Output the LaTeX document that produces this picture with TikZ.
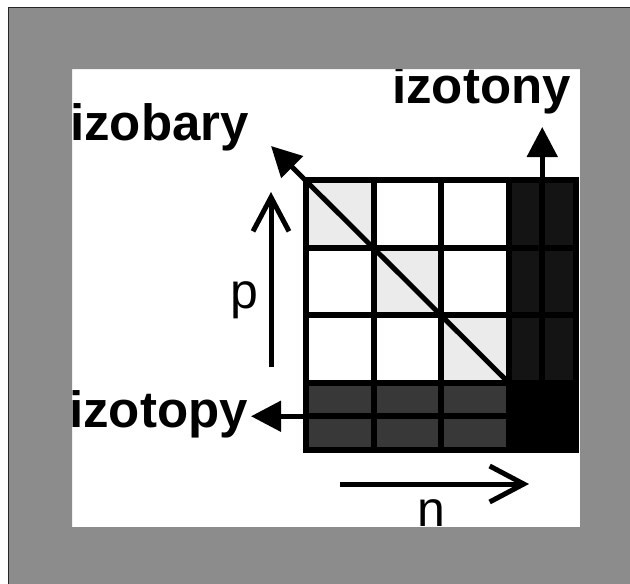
\documentclass[tikz,border=0pt]{standalone}
\usepackage{fontspec}
\setmainfont{Liberation Sans}
\usetikzlibrary{arrows.meta}
\definecolor{diagcell}{RGB}{235,235,235}
\definecolor{protonrow}{RGB}{56,56,56}
\definecolor{neutroncol}{RGB}{20,20,20}
\definecolor{framegray}{RGB}{140,140,140}

\begin{document}
\begin{tikzpicture}[x=1pt, y=-1pt,
                    lbl/.style={font=\fontsize{51}{51}\selectfont\bfseries, inner sep=0pt, anchor=base west},
                    axl/.style={font=\fontsize{50}{50}\selectfont, inner sep=0pt, anchor=base west},
                    grd/.style={line width=6pt},
                    tri/.style={line width=5pt, -{Triangle[length=30pt, width=30pt]}},
                    barb/.style={line width=5pt, -{Straight Barb[length=34pt, width=36pt]}}]
    \useasboundingbox (0,0) rectangle (630,584);
    \fill[white] (0,0) rectangle (630,584);
    \foreach \i in {0,1,2}
      \fill[diagcell] (306+67.5*\i, 180+67.5*\i) rectangle ++(67.5,67.5);
    \fill[protonrow] (306,382.5) rectangle (508.5,450);
    \fill[neutroncol] (508.5,180) rectangle (576,382.5);
    \fill[black] (508.5,382.5) rectangle (576,450);
    \foreach \x in {373.5,441,508.5}
      \draw[grd] (\x,180) -- (\x,450);
    \foreach \y in {247.5,315,382.5}
      \draw[grd] (306,\y) -- (576,\y);
    \draw[grd] (542.25,180) -- (542.25,382.5);
    \draw[grd] (306,416.25) -- (508.5,416.25);
    \draw[grd] (306,180) rectangle (576,450);
    \coordinate (diagend) at (508.5,382.5);
    \coordinate (isobartip) at (271,146);
    \coordinate (isotonefoot) at (542.25,180);
    \coordinate (isotonetip) at (542.25,127);
    \coordinate (isotopefoot) at (306,416.25);
    \coordinate (isotopetip) at (251,416.25);
    \coordinate (pfoot) at (271,367);
    \coordinate (ptip) at (271,192);
    \coordinate (nfoot) at (340,484);
    \coordinate (ntip) at (529,484);
    \draw[tri] (diagend) -- (isobartip);
    \draw[tri] (isotonefoot) -- (isotonetip);
    \draw[tri] (isotopefoot) -- (isotopetip);
    \draw[barb] (pfoot) -- (ptip);
    \draw[barb] (nfoot) -- (ntip);
    \node[lbl] (izobary) at (70,140) {izobary};
    \node[lbl] (izotony) at (392,103) {izotony};
    \node[lbl] (izotopy) at (69,427) {izotopy};
    \node[axl] (plabel) at (230,308) {p};
    \node[axl] (nlabel) at (417,526) {n};
    \fill[framegray, even odd rule] (8.5,7.5) rectangle (630,584) (72,69) rectangle (580,527);
    \draw[line width=1.5pt, black!85] (630,7.5) -- (8.5,7.5) -- (8.5,584);
  \end{tikzpicture}
\end{document}
